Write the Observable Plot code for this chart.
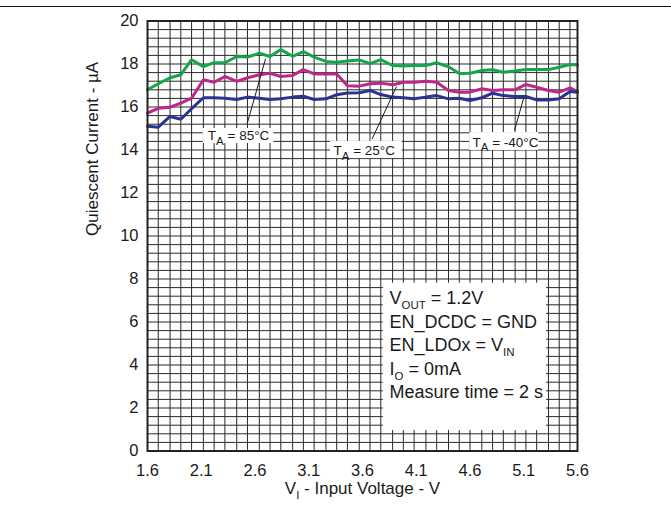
<!DOCTYPE html>
<html>
<head>
<meta charset="utf-8">
<script src="https://cdn.jsdelivr.net/npm/d3@7"></script>
<script src="https://cdn.jsdelivr.net/npm/@observablehq/plot@0.6"></script>
<style>
  html, body { margin: 0; padding: 0; background: #fff; }
  #wrap { position: relative; width: 671px; height: 508px; }
  #toprule { position: absolute; top: 6px; left: 0; width: 671px; border-top: 1.5px solid #111; }
</style>
</head>
<body>
<div id="wrap"><div id="toprule"></div></div>
<script>
// ---- data ----
const volts = [1.60, 1.70, 1.81, 1.91, 2.01, 2.12, 2.22, 2.32, 2.43, 2.53, 2.64, 2.74, 2.84, 2.95, 3.05, 3.15, 3.26, 3.36, 3.46, 3.57, 3.67, 3.77, 3.88, 3.98, 4.08, 4.19, 4.29, 4.40, 4.50, 4.60, 4.71, 4.81, 4.91, 5.02, 5.12, 5.22, 5.33, 5.43, 5.53, 5.60];
const iq85 = [16.80, 17.08, 17.36, 17.50, 18.20, 17.88, 18.06, 18.06, 18.35, 18.32, 18.50, 18.35, 18.67, 18.36, 18.58, 18.32, 18.12, 18.08, 18.14, 18.19, 18.02, 18.20, 17.93, 17.91, 17.93, 17.93, 18.06, 17.87, 17.56, 17.57, 17.70, 17.73, 17.62, 17.67, 17.74, 17.74, 17.74, 17.85, 17.98, 17.95];
const iq25 = [15.71, 15.94, 15.99, 16.18, 16.41, 17.27, 17.15, 17.42, 17.19, 17.36, 17.50, 17.57, 17.42, 17.47, 17.74, 17.54, 17.54, 17.54, 16.99, 16.97, 17.08, 17.11, 17.03, 17.15, 17.15, 17.20, 17.15, 16.77, 16.69, 16.69, 16.85, 16.77, 16.80, 16.80, 17.05, 16.92, 16.77, 16.69, 16.89, 16.72];
const iqM40 = [15.11, 15.06, 15.56, 15.43, 15.92, 16.43, 16.43, 16.41, 16.35, 16.46, 16.41, 16.35, 16.38, 16.46, 16.50, 16.35, 16.38, 16.57, 16.65, 16.66, 16.77, 16.58, 16.46, 16.43, 16.38, 16.46, 16.53, 16.38, 16.41, 16.30, 16.43, 16.64, 16.53, 16.49, 16.49, 16.33, 16.33, 16.38, 16.72, 16.69];
const seriesNames = ["85", "25", "-40"];
const seriesColors = ["#14a54b", "#c02689", "#2c3292"];

const xTicks = [1.6, 2.1, 2.6, 3.1, 3.6, 4.1, 4.6, 5.1, 5.6];
const yTicks = [0, 2, 4, 6, 8, 10, 12, 14, 16, 18, 20];
const gridRows = d3.range(0, 20.001, 0.4);
const gridCols = volts;

const xLabel = "V{I} - Input Voltage - V";
const yLabel = "Quiescent Current - µA";

// annotation labels (data coordinates)
const tempLabels = ["T{A} = 85°C", "T{A} = 25°C", "T{A} = -40°C"];
const tempLabelX = [2.447, 3.616, 4.930];
const tempLabelY = [14.67, 13.98, 14.36];
const tempBoxX1 = [2.118, 3.302, 4.598];
const tempBoxX2 = [2.775, 3.969, 5.240];
const tempBoxY1 = [14.30, 13.60, 13.98];
const tempBoxY2 = [15.00, 14.40, 14.81];
const arrowFromX = [2.527, 3.690, 5.014];
const arrowFromY = [15.22, 14.52, 14.91];
const arrowToX = [2.698, 3.916, 5.100];
const arrowToY = [18.24, 16.95, 16.43];

// conditions box
const condLines = ["V{OUT} = 1.2V", "EN_DCDC = GND", "EN_LDOx = V{IN}", "I{O} = 0mA", "Measure time = 2 s"];
const condY = [7.09, 5.98, 4.91, 3.79, 2.72];
const condX = 3.851;
const condBox = {x1: 3.793, x2: 5.312, y1: 0.95, y2: 7.8};

// ---- build tables ----
const lineData = [];
[iq85, iq25, iqM40].forEach((arr, s) => arr.forEach((v, i) => lineData.push({series: seriesNames[s], v: volts[i], iq: v})));
const labelTable = tempLabels.map((t, i) => ({t, x: tempLabelX[i], y: tempLabelY[i], x1: tempBoxX1[i], x2: tempBoxX2[i], y1: tempBoxY1[i], y2: tempBoxY2[i], ax1: arrowFromX[i], ay1: arrowFromY[i], ax2: arrowToX[i], ay2: arrowToY[i]}));
const condTable = condLines.map((t, i) => ({t, x: condX, y: condY[i]}));

const ink = "#1a1a1a";
const chart = Plot.plot({
  width: 671,
  height: 508,
  marginTop: 20.5,
  marginBottom: 57.5,
  marginLeft: 147,
  marginRight: 94,
  style: {fontFamily: "'Liberation Sans', Arial, sans-serif", fontSize: "16.5px", color: ink, background: "white"},
  x: {domain: [1.6, 5.6]},
  y: {domain: [0, 20]},
  color: {domain: seriesNames, range: seriesColors},
  marks: [
    Plot.ruleY(gridRows, {stroke: "#2a2a2a", strokeWidth: 1}),
    Plot.ruleX(gridCols, {stroke: "#2a2a2a", strokeWidth: 1}),
    Plot.rect([condBox], {x1: "x1", x2: "x2", y1: "y1", y2: "y2", fill: "white"}),
    Plot.rect(labelTable, {x1: "x1", x2: "x2", y1: "y1", y2: "y2", fill: "white"}),
    Plot.line(lineData, {x: "v", y: "iq", z: "series", stroke: "series", strokeWidth: 3, strokeLinejoin: "miter"}),
    Plot.link(labelTable, {x1: "ax1", y1: "ay1", x2: "ax2", y2: "ay2", stroke: ink, strokeWidth: 1, ariaLabel: "ann-arrow"}),
    Plot.text(labelTable, {x: "x", y: "y", text: "t", fontSize: 13.5, fill: ink}),
    Plot.text(condTable, {x: "x", y: "y", text: "t", fontSize: 18, textAnchor: "start", fill: ink}),
    Plot.axisX({ticks: xTicks, tickSize: 0, tickPadding: 13, tickFormat: d => d.toFixed(1), label: null, fontSize: 16.5}),
    Plot.axisY({ticks: yTicks, tickSize: 0, tickPadding: 9, label: null, fontSize: 16.5}),
    Plot.text([xLabel], {frameAnchor: "bottom", dy: 43, fontSize: 17, fill: ink}),
    Plot.text([yLabel], {frameAnchor: "left", dx: -55, rotate: -90, fontSize: 17, fill: ink}),
    Plot.frame({stroke: "#222", strokeWidth: 2})
  ]
});

// filled arrowheads
const svg = d3.select(chart);
const defs = svg.insert("defs", ":first-child");
defs.append("marker")
  .attr("id", "tri").attr("viewBox", "0 0 12 9").attr("refX", 12).attr("refY", 4.5)
  .attr("markerWidth", 12).attr("markerHeight", 9).attr("markerUnits", "userSpaceOnUse").attr("orient", "auto")
  .append("path").attr("d", "M0,0 L12,4.5 L0,9 Z").attr("fill", ink);
svg.selectAll('g[aria-label="ann-arrow"] path').attr("marker-end", "url(#tri)");

// subscripts written as X{sub}
svg.selectAll("text").each(function() {
  const t = this.textContent;
  if (!t.includes("{")) return;
  const fs = parseFloat(getComputedStyle(this).fontSize) || 16;
  const parts = t.split(/(\{[^}]*\})/).filter(s => s.length);
  this.textContent = "";
  const sel = d3.select(this);
  let shifted = false;
  parts.forEach(p => {
    const sp = sel.append("tspan");
    if (p.startsWith("{")) {
      sp.text(p.slice(1, -1)).attr("font-size", (fs * 0.72) + "px").attr("dy", fs * 0.3);
      shifted = true;
    } else {
      sp.text(p);
      if (shifted) { sp.attr("dy", -fs * 0.3); shifted = false; }
    }
  });
});

document.getElementById("wrap").appendChild(chart);
</script>
</body>
</html>
